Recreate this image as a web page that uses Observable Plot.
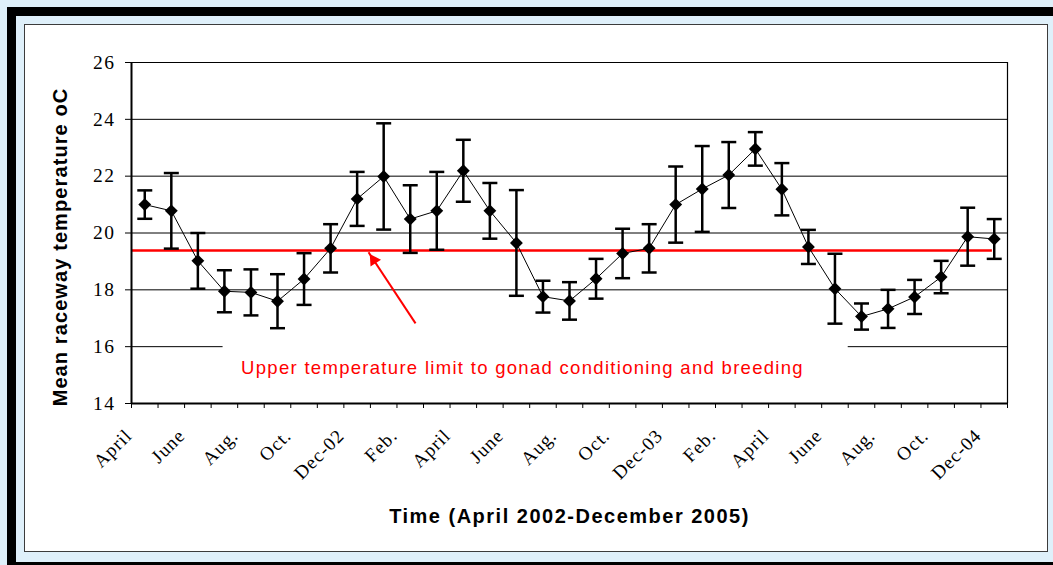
<!DOCTYPE html>
<html>
<head>
<meta charset="utf-8">
<script src="https://cdn.jsdelivr.net/npm/d3@7"></script>
<script src="https://cdn.jsdelivr.net/npm/@observablehq/plot@0.6"></script>
<style>
  html, body { margin: 0; padding: 0; background: #dff0fa; width: 1053px; height: 565px; overflow: hidden; }
  #outer { position: absolute; left: 7px; top: 7px; width: 1070px; height: 546px; border: 9px solid #000; background: #dff0fa; }
  #inner { position: absolute; left: 24px; top: 24px; width: 1022px; height: 526px; border: 1.5px solid #3c3c3c; background: #fff; }
  #chart { position: absolute; left: 0; top: 0; width: 1053px; height: 565px; }
</style>
</head>
<body>
<div id="outer"></div>
<div id="inner"></div>
<div id="chart"></div>
<script>
// ---- data ----
const months = [
  "Apr 2002","May 2002","Jun 2002","Jul 2002","Aug 2002","Sep 2002","Oct 2002","Nov 2002","Dec 2002",
  "Jan 2003","Feb 2003","Mar 2003","Apr 2003","May 2003","Jun 2003","Jul 2003","Aug 2003","Sep 2003",
  "Oct 2003","Nov 2003","Dec 2003","Jan 2004","Feb 2004","Mar 2004","Apr 2004","May 2004","Jun 2004",
  "Jul 2004","Aug 2004","Sep 2004","Oct 2004","Nov 2004","Dec 2004"
];
const meanTemp = [
  21.00, 20.78, 19.02, 17.95, 17.91, 17.60, 18.38, 19.46, 21.20,
  21.99, 20.49, 20.78, 22.19, 20.78, 19.65, 17.76, 17.61, 18.39,
  19.28, 19.46, 21.00, 21.55, 22.04, 22.96, 21.54, 19.51, 18.04,
  17.06, 17.33, 17.75, 18.45, 19.87, 19.79
];
const errTemp = [
  0.50, 1.33, 0.98, 0.74, 0.81, 0.95, 0.91, 0.85, 0.95,
  1.87, 1.19, 1.37, 1.09, 0.98, 1.86, 0.56, 0.66, 0.70,
  0.87, 0.85, 1.34, 1.51, 1.16, 0.59, 0.92, 0.60, 1.23,
  0.46, 0.67, 0.60, 0.57, 1.02, 0.70
];
const tickLabels = ["April","June","Aug.","Oct.","Dec-02","Feb.","April","June","Aug.","Oct.","Dec-03","Feb.","April","June","Aug.","Oct.","Dec-04"];
const yTicks = [14, 16, 18, 20, 22, 24, 26];
const gridValues = [16, 18, 20, 22, 24, 26];
const upperLimit = 19.38;
const limitSpan = [-0.5, 31.93];
const noteText = "Upper temperature limit to gonad conditioning and breeding";
const noteAnchor = {x: 14.23, y: 15.23};
const noteBox = {x1: 2.95, x2: 26.5, y1: 15.0, y2: 16.25};
const arrowAnn = {x1: 10.2, y1: 16.82, x2: 8.43, y2: 19.32};
const xTitle = "Time (April 2002-December 2005)";
const yTitle = "Mean raceway temperature oC";

// ---- build ----
const data = months.map((m, i) => ({i, month: m, mean: meanTemp[i], err: errTemp[i]}));
const capSymbol = { draw(ctx) { ctx.moveTo(-7.5, 0); ctx.lineTo(7.5, 0); } };

const chart = Plot.plot({
  width: 1053,
  height: 565,
  marginLeft: 131,
  marginRight: 46,
  marginTop: 62,
  marginBottom: 162,
  style: { background: "transparent", overflow: "visible" },
  x: { domain: [-0.5, months.length - 0.5], axis: null },
  y: { domain: [14, 26], axis: null },
  marks: [
    Plot.ruleY(gridValues, { stroke: "#000", strokeWidth: 1 }),
    Plot.rect([noteBox], { x1: "x1", x2: "x2", y1: "y1", y2: "y2", fill: "#fff" }),
    Plot.text([noteText], {
      x: () => noteAnchor.x, y: () => noteAnchor.y, text: d => d,
      fill: "#ff0000", fontSize: 18.5, fontFamily: "Liberation Sans"
    }),
    Plot.ruleY([upperLimit], { x1: limitSpan[0], x2: limitSpan[1], stroke: "#ff0000", strokeWidth: 2.5 }),
    Plot.link([arrowAnn], { x1: "x1", y1: "y1", x2: "x2", y2: "y2", stroke: "#ff0000", strokeWidth: 2 }),
    Plot.dot([arrowAnn], { x: "x2", y: "y2", symbol: "triangle2", r: 6, rotate: -33.5, dx: 5.2, dy: 7.8, fill: "#ff0000", stroke: "none" }),
    // frame
    Plot.ruleX([32.5], { stroke: "#000", strokeWidth: 1.2 }),
    Plot.ruleX([-0.5], { stroke: "#000", strokeWidth: 2 }),
    Plot.ruleY([14], { stroke: "#000", strokeWidth: 2 }),
    // axes (ticks)
    Plot.axisY({ ticks: yTicks, tickSize: 6, tickFormat: () => "", label: null, stroke: "#000" }),
    Plot.axisX({ ticks: d3.range(-0.5, months.length, 1), tickSize: 5, tickFormat: () => "", label: null, stroke: "#000" }),
    // tick labels
    Plot.text(yTicks, {
      y: d => d, text: d => String(d), frameAnchor: "left", textAnchor: "end", dx: -16,
      fontSize: 19.5, fontFamily: "Liberation Serif", fill: "#000"
    }),
    Plot.text(tickLabels, {
      x: (d, i) => i * 2, text: d => d, frameAnchor: "bottom",
      rotate: -45, textAnchor: "end", lineAnchor: "middle", dx: -16, dy: 29,
      fontSize: 19, fontFamily: "Liberation Serif", fill: "#000"
    }),
    // error bars
    Plot.ruleX(data, { x: "i", y1: d => d.mean - d.err, y2: d => d.mean + d.err, stroke: "#000", strokeWidth: 2.5 }),
    Plot.dot(data, { x: "i", y: d => d.mean + d.err, symbol: capSymbol, fill: "none", stroke: "#000", strokeWidth: 2.5 }),
    Plot.dot(data, { x: "i", y: d => d.mean - d.err, symbol: capSymbol, fill: "none", stroke: "#000", strokeWidth: 2.5 }),
    // series
    Plot.line(data, { x: "i", y: "mean", stroke: "#000", strokeWidth: 1 }),
    Plot.dot(data, { x: "i", y: "mean", symbol: "diamond2", r: 5.8, fill: "#000", stroke: "none" }),
    // titles
    Plot.text([xTitle], { frameAnchor: "bottom", lineAnchor: "middle", textAnchor: "middle", dy: 113, text: d => d,
      fontWeight: "bold", fontSize: 20, fontFamily: "Liberation Sans", fill: "#000" }),
    Plot.text([yTitle], { frameAnchor: "left", lineAnchor: "middle", textAnchor: "middle", dx: -71, dy: 14, rotate: -90, text: d => d,
      fontWeight: "bold", fontSize: 20, fontFamily: "Liberation Sans", fill: "#000" })
  ]
});

// letter spacing to mimic the wide rendering of the original
const spacing = new Map([[xTitle, 1.5], [yTitle, 1.1], [noteText, 1.3]]);
tickLabels.forEach(t => spacing.set(t, 1.0));
yTicks.forEach(t => spacing.set(String(t), 1.5));
d3.select(chart).selectAll("text").each(function () {
  const s = spacing.get(this.textContent);
  if (s != null) this.style.letterSpacing = s + "px";
});
document.getElementById("chart").appendChild(chart);
</script>
</body>
</html>
